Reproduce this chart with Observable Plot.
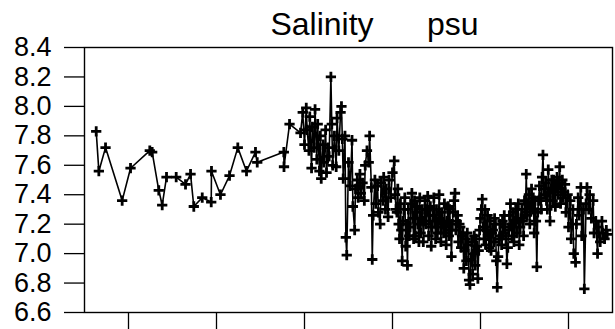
<!DOCTYPE html>
<html>
<head>
<meta charset="utf-8">
<script src="https://cdn.jsdelivr.net/npm/d3@7"></script>
<script src="https://cdn.jsdelivr.net/npm/@observablehq/plot@0.6"></script>
<style>
  html, body { margin: 0; padding: 0; background: #fff; }
  #chart svg { display: block; }
</style>
</head>
<body>
<div id="chart"></div>
<script>
const title = "Salinity      psu";
const yTicks = [6.6, 6.8, 7.0, 7.2, 7.4, 7.6, 7.8, 8.0, 8.2, 8.4];
const xTicks = [1980, 1981, 1982, 1983, 1984, 1985];

// decimal year of each sample
const time = [
  1979.633, 1979.663, 1979.739, 1979.928, 1980.023, 1980.242, 1980.269, 1980.344, 1980.383, 1980.432,
  1980.542, 1980.648, 1980.705, 1980.742, 1980.838, 1980.940, 1980.943, 1981.045, 1981.148, 1981.242,
  1981.341, 1981.443, 1981.463, 1981.765, 1981.767, 1981.830, 1981.955,
  1981.98, 1982.00, 1982.02, 1982.03, 1982.05, 1982.06, 1982.08, 1982.09, 1982.11, 1982.12,
  1982.14, 1982.15, 1982.17, 1982.18, 1982.19, 1982.21, 1982.22, 1982.24, 1982.25, 1982.27,
  1982.28, 1982.30, 1982.31, 1982.32, 1982.34, 1982.36, 1982.37, 1982.39, 1982.41, 1982.42, 1982.43,
  1982.44, 1982.46, 1982.47, 1982.48, 1982.50, 1982.52, 1982.54, 1982.55, 1982.57, 1982.58,
  1982.60, 1982.61, 1982.63, 1982.64, 1982.66, 1982.68, 1982.69,
  1982.71, 1982.73, 1982.74, 1982.76, 1982.77, 1982.78, 1982.80, 1982.81, 1982.83, 1982.84,
  1982.86, 1982.87, 1982.89, 1982.90, 1982.92, 1982.93, 1982.95, 1982.96, 1982.98, 1983.00, 1983.02, 1983.03,
  1983.04, 1983.05, 1983.06, 1983.07, 1983.08, 1983.09, 1983.10, 1983.11, 1983.12, 1983.13,
  1983.14, 1983.15, 1983.16, 1983.17, 1983.18, 1983.19, 1983.20, 1983.21, 1983.22, 1983.23,
  1983.24, 1983.25, 1983.26, 1983.27, 1983.28, 1983.29, 1983.30, 1983.31, 1983.32, 1983.33,
  1983.34, 1983.35, 1983.36, 1983.37, 1983.38, 1983.39, 1983.40, 1983.41, 1983.42, 1983.43,
  1983.44, 1983.45, 1983.46, 1983.47, 1983.48, 1983.49, 1983.50, 1983.51, 1983.52, 1983.53,
  1983.54, 1983.55, 1983.56, 1983.57, 1983.58, 1983.59, 1983.60, 1983.61, 1983.62, 1983.63,
  1983.64, 1983.65, 1983.66, 1983.67, 1983.68, 1983.69, 1983.70, 1983.71, 1983.72, 1983.73,
  1983.74, 1983.75, 1983.76, 1983.77, 1983.78, 1983.79, 1983.80, 1983.81, 1983.82, 1983.83,
  1983.84, 1983.85, 1983.86, 1983.87, 1983.88, 1983.89, 1983.90, 1983.91, 1983.92, 1983.93,
  1983.94, 1983.95, 1983.96, 1983.97, 1983.98, 1983.99, 1984.00, 1984.01, 1984.02, 1984.03,
  1984.04, 1984.05, 1984.06, 1984.07, 1984.08, 1984.09, 1984.10, 1984.11, 1984.12, 1984.13,
  1984.14, 1984.15, 1984.16, 1984.17, 1984.18, 1984.19, 1984.20, 1984.21, 1984.22, 1984.23,
  1984.24, 1984.25, 1984.26, 1984.27, 1984.28, 1984.29, 1984.30, 1984.31, 1984.32, 1984.33,
  1984.34, 1984.35, 1984.36, 1984.37, 1984.38, 1984.39, 1984.40, 1984.41, 1984.42, 1984.43,
  1984.44, 1984.45, 1984.46, 1984.47, 1984.48, 1984.49, 1984.50, 1984.51, 1984.52, 1984.53,
  1984.54, 1984.55, 1984.56, 1984.57, 1984.58, 1984.59, 1984.60, 1984.61, 1984.62, 1984.63,
  1984.64, 1984.65, 1984.66, 1984.67, 1984.68, 1984.69, 1984.70, 1984.71, 1984.72, 1984.73,
  1984.74, 1984.75, 1984.76, 1984.77, 1984.78, 1984.79, 1984.80, 1984.81, 1984.82, 1984.83,
  1984.84, 1984.85, 1984.86, 1984.87, 1984.88, 1984.89, 1984.90, 1984.91, 1984.92, 1984.93,
  1984.94, 1984.95,
  1984.96, 1984.97, 1984.99, 1985.00, 1985.02, 1985.03, 1985.05, 1985.06, 1985.08, 1985.09,
  1985.11, 1985.12, 1985.14, 1985.15, 1985.17, 1985.18, 1985.20, 1985.21, 1985.23, 1985.24,
  1985.26, 1985.28, 1985.29, 1985.31, 1985.33, 1985.34, 1985.36, 1985.38, 1985.39, 1985.41,
  1985.43, 1985.44
];

// salinity (psu)
const salinity = [
  7.83, 7.56, 7.72, 7.36, 7.58, 7.70, 7.69, 7.43, 7.33, 7.52,
  7.52, 7.47, 7.54, 7.32, 7.38, 7.35, 7.56, 7.40, 7.53, 7.72,
  7.56, 7.69, 7.62, 7.69, 7.59, 7.88, 7.82,
  7.96, 7.74, 7.99, 7.84, 7.70, 7.93, 7.58, 7.86, 7.72, 7.98,
  7.64, 7.88, 7.56, 7.80, 7.51, 7.74, 7.62, 7.84, 7.55, 7.72,
  7.66, 8.20, 7.88, 7.60, 7.80, 7.59, 7.92, 7.70, 7.96, 8.00, 7.78,
  7.51, 7.80, 7.11, 6.99, 7.62, 7.46, 7.77, 7.32, 7.16, 7.44,
  7.50, 7.38, 7.54, 7.41, 7.48, 7.36, 7.60,
  7.70, 7.62, 7.80, 7.45, 6.96, 7.26, 7.50, 7.34, 7.46, 7.28,
  7.20, 7.48, 7.36, 7.52, 7.30, 7.44, 7.25, 7.50, 7.38, 7.55, 7.63, 7.40,
  7.30, 7.28, 7.44, 7.20, 7.10, 7.34, 7.16, 6.95, 7.22, 7.30,
  7.38, 7.05, 7.20, 6.92, 7.30, 7.12, 7.18, 7.34, 7.41, 7.24,
  7.10, 7.36, 7.12, 7.28, 7.32, 7.20, 7.08, 7.38, 7.14, 7.24,
  7.30, 7.08, 7.22, 7.36, 7.20, 7.30, 7.39, 7.12, 7.26, 7.32,
  7.05, 7.18, 7.26, 7.38, 7.22, 7.10, 7.30, 7.14, 7.18, 7.40,
  7.24, 7.08, 7.28, 7.20, 7.14, 7.34, 7.18, 7.06, 7.22, 7.32,
  7.12, 7.30, 7.16, 6.98, 7.20, 7.28, 7.36, 7.41, 7.16, 7.22,
  7.26, 7.08, 7.20, 7.18, 7.04, 7.12, 7.14, 6.90, 7.02, 7.10,
  6.95, 7.14, 7.06, 6.82, 6.79, 6.96, 7.08, 6.86, 7.00, 7.12,
  6.92, 7.10, 7.05, 6.83, 7.02, 7.16, 7.24, 7.30, 7.37, 7.18,
  7.10, 7.30, 7.06, 7.18, 7.26, 7.12, 7.04, 7.22, 7.02, 7.14,
  7.16, 7.08, 7.24, 7.20, 6.95, 6.77, 6.98, 7.10, 7.20, 7.12,
  7.06, 7.22, 7.14, 7.26, 7.18, 7.10, 6.93, 7.04, 7.16, 7.26,
  7.34, 7.20, 7.12, 7.28, 7.08, 7.22, 7.30, 7.14, 7.24, 7.34,
  7.06, 7.18, 7.24, 7.30, 7.22, 7.12, 7.36, 7.28, 7.54, 7.26,
  7.34, 7.40, 7.20, 7.32, 7.44, 7.30, 7.38, 7.14, 7.36, 7.22,
  6.91, 7.28, 7.36, 7.46, 7.38, 7.30, 7.52, 7.67, 7.44, 7.40,
  7.48, 7.36, 7.30, 7.57, 7.42, 7.22, 7.44, 7.50, 7.36, 7.50,
  7.42, 7.32, 7.46, 7.52, 7.40, 7.48, 7.59, 7.34, 7.44, 7.50,
  7.38, 7.42,
  7.47, 7.28, 7.40, 7.18, 7.36, 7.10, 7.30, 7.00, 6.94, 7.20,
  7.38, 7.26, 7.45, 7.12, 7.30, 6.76, 7.34, 7.45, 7.30, 7.40,
  7.24, 7.36, 7.14, 7.22, 7.00, 7.18, 7.08, 7.22, 7.14, 7.10,
  7.16, 7.13
];

const data = time.map((t, i) => ({t, v: salinity[i]}));
const font = "'Liberation Sans', Arial, sans-serif";

const chart = Plot.plot({
  width: 615,
  height: 329,
  marginLeft: 84,
  marginRight: 3,
  marginTop: 47,
  marginBottom: 17,
  style: {fontFamily: font, background: "#fff", color: "#000"},
  x: {domain: [1979.5, 1985.5], label: null},
  y: {domain: [6.6, 8.4], label: null},
  marks: [
    Plot.axisX({ticks: xTicks, tickSize: 17, tickFormat: () => "", label: null, strokeWidth: 1.3, stroke: "#000"}),
    Plot.axisY({ticks: yTicks, tickSize: 20, tickPadding: 13, tickFormat: d3.format(".1f"), label: null,
      fontSize: 27, strokeWidth: 1.3, stroke: "#000", fill: "#000"}),
    Plot.line(data, {x: "t", y: "v", stroke: "#000", strokeWidth: 1.6}),
    Plot.dot(data, {x: "t", y: "v", symbol: "plus", r: 3.4, stroke: "#000", strokeWidth: 2.8}),
    Plot.frame({stroke: "#000", strokeWidth: 1.4}),
    Plot.text([title], {frameAnchor: "top", lineAnchor: "middle", dx: 26, dy: -23, fontSize: 32, fill: "#000", fontFamily: font})
  ]
});
document.getElementById("chart").appendChild(chart);
</script>
</body>
</html>
